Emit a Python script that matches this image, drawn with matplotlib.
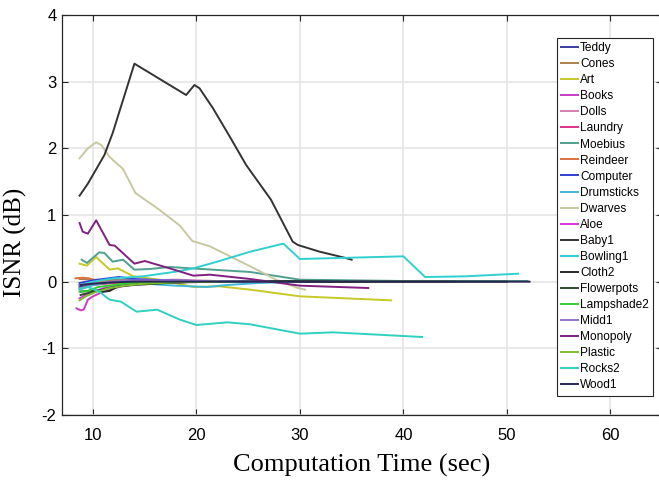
import matplotlib
matplotlib.use("Agg")
import matplotlib.pyplot as plt

plt.rcParams["axes.unicode_minus"] = False

names = ["Teddy", "Cones", "Art", "Books", "Dolls", "Laundry", "Moebius",
         "Reindeer", "Computer", "Drumsticks", "Dwarves", "Aloe", "Baby1",
         "Bowling1", "Cloth2", "Flowerpots", "Lampshade2", "Midd1",
         "Monopoly", "Plastic", "Rocks2", "Wood1"]

colors = ["#3c3ca0", "#b0804a", "#c8c828", "#c83cc8", "#d580b0", "#e0308a",
          "#50a090", "#e07040", "#3040d8", "#40b8d8", "#c8c8a0", "#e030e0",
          "#333333", "#30d0d0", "#2a2a2a", "#304830", "#30d030", "#9070d0",
          "#802080", "#80c030", "#30d0c0", "#282850"]

# computation time (sec) / ISNR (dB) for each image
t_teddy = [8.7, 9.5, 10.5, 12, 14, 17, 20, 25, 30]
v_teddy = [-0.08, -0.04, 0.0, 0.02, 0.02, 0.01, 0.01, 0.0, 0.0]
t_cones = [8.7, 10, 12, 15, 20, 30, 44]
v_cones = [0.04, 0.03, 0.02, 0.01, 0.01, 0.0, 0.0]
t_art = [8.7, 9.4, 10.3, 11.6, 12.4, 13.9, 16.4, 19.7, 22.2, 25.2, 30.0, 38.8]
v_art = [0.27, 0.24, 0.37, 0.18, 0.20, 0.08, 0.03, -0.08, -0.07, -0.12, -0.22, -0.28]
t_books = [8.4, 8.8, 9.1, 9.5, 10, 11, 12.5, 14, 16, 19, 22]
v_books = [-0.40, -0.43, -0.42, -0.27, -0.22, -0.15, -0.08, -0.04, -0.02, -0.01, 0.0]
t_dolls = [8.7, 10, 12, 15, 18, 22, 25]
v_dolls = [-0.05, -0.02, 0.0, 0.02, 0.03, 0.01, 0.0]
t_laundry = [8.7, 10, 12, 15, 18, 22, 28]
v_laundry = [-0.1, -0.05, -0.02, 0.0, 0.01, 0.0, 0.0]
t_moebius = [8.9, 9.4, 10.6, 11.1, 11.9, 12.9, 14.0, 15.5, 17.4, 25.2, 30, 35, 40, 45, 52]
v_moebius = [0.33, 0.28, 0.44, 0.43, 0.30, 0.33, 0.18, 0.19, 0.22, 0.145, 0.03, 0.02, 0.01, 0.01, 0.01]
t_reindeer = [8.3, 9.0, 9.6, 10.5, 12, 15, 20]
v_reindeer = [0.05, 0.06, 0.05, 0.0, -0.01, 0.0, 0.0]
t_computer = [8.7, 10, 11.5, 12.5, 14, 17, 20, 25, 33]
v_computer = [-0.02, 0.02, 0.05, 0.07, 0.04, 0.02, 0.01, 0.0, 0.0]
t_drumsticks = [8.7, 10, 12, 15, 18, 21, 23, 26, 30, 35]
v_drumsticks = [-0.12, -0.05, 0.0, -0.03, -0.06, -0.08, -0.05, -0.02, 0.0, 0.0]
t_dwarves = [8.7, 9.5, 10.3, 10.8, 11.6, 12.9, 14.1, 16.4, 18.4, 19.6, 21.3, 25.2, 27.7, 29.7, 30.5]
v_dwarves = [1.85, 2.0, 2.09, 2.05, 1.87, 1.69, 1.33, 1.08, 0.84, 0.61, 0.53, 0.23, 0.03, -0.09, -0.12]
t_aloe = [8.7, 9.3, 10, 11, 12.5, 14, 16, 18]
v_aloe = [-0.25, -0.2, -0.15, -0.1, -0.05, -0.03, -0.01, 0.0]
t_baby1 = [8.7, 9.5, 11.1, 11.9, 14.0, 19.0, 19.8, 20.3, 21.6, 23.2, 24.8, 27.2, 29.3, 29.8, 31.9, 34.3, 35.0]
v_baby1 = [1.29, 1.47, 1.90, 2.23, 3.27, 2.80, 2.95, 2.90, 2.60, 2.18, 1.75, 1.23, 0.60, 0.55, 0.45, 0.36, 0.33]
t_bowling1 = [8.7, 10, 12, 14.8, 18, 19.7, 22, 25.2, 28.4, 30.0, 35, 40, 42.1, 46, 51.1]
v_bowling1 = [-0.05, 0.0, 0.05, 0.08, 0.15, 0.2, 0.3, 0.45, 0.57, 0.34, 0.36, 0.38, 0.07, 0.08, 0.12]
t_cloth2 = [8.8, 10, 11, 11.6, 12.4, 14, 15, 17, 20, 25, 30, 40, 50]
v_cloth2 = [-0.15, -0.13, -0.15, -0.14, -0.07, -0.05, -0.04, -0.02, 0.0, 0.01, 0.0, 0.0, 0.0]
t_flowerpots = [8.8, 10, 12, 14, 17, 20, 25, 30, 35, 45]
v_flowerpots = [-0.2, -0.15, -0.08, -0.04, -0.02, 0.0, 0.01, 0.01, 0.0, 0.0]
t_lampshade2 = [8.7, 9.5, 10.5, 12, 13.5, 15, 18, 21, 24]
v_lampshade2 = [-0.15, -0.14, -0.08, -0.05, -0.02, -0.01, 0.0, 0.0, 0.0]
t_midd1 = [8.7, 10, 12, 14, 17, 20, 27]
v_midd1 = [-0.05, -0.03, 0.0, 0.02, 0.02, 0.01, 0.0]
t_monopoly = [8.7, 9.0, 9.5, 10.3, 11.6, 12.1, 14.0, 15.0, 17.4, 19.7, 21.3, 25.2, 30.0, 36.6]
v_monopoly = [0.88, 0.75, 0.72, 0.92, 0.55, 0.54, 0.27, 0.31, 0.20, 0.09, 0.105, 0.04, -0.06, -0.095]
t_plastic = [8.7, 9.3, 10.2, 11.5, 13, 15, 18, 22]
v_plastic = [-0.28, -0.22, -0.16, -0.1, -0.06, -0.03, -0.01, 0.0]
t_rocks2 = [8.7, 9.5, 10.6, 11.6, 12.7, 14.2, 16.2, 18.4, 20, 23, 25.2, 30, 33.2, 41.8]
v_rocks2 = [-0.1, -0.08, -0.15, -0.27, -0.30, -0.45, -0.42, -0.57, -0.65, -0.61, -0.64, -0.78, -0.76, -0.83]
t_wood1 = [8.8, 10, 12, 14, 17, 20, 25, 30, 35, 40, 45, 52.2]
v_wood1 = [-0.05, -0.03, -0.01, 0.0, 0.0, 0.0, 0.0, 0.0, 0.0, 0.0, 0.0, 0.0]

times = [t_teddy, t_cones, t_art, t_books, t_dolls, t_laundry, t_moebius,
         t_reindeer, t_computer, t_drumsticks, t_dwarves, t_aloe, t_baby1,
         t_bowling1, t_cloth2, t_flowerpots, t_lampshade2, t_midd1,
         t_monopoly, t_plastic, t_rocks2, t_wood1]
isnrs = [v_teddy, v_cones, v_art, v_books, v_dolls, v_laundry, v_moebius,
         v_reindeer, v_computer, v_drumsticks, v_dwarves, v_aloe, v_baby1,
         v_bowling1, v_cloth2, v_flowerpots, v_lampshade2, v_midd1,
         v_monopoly, v_plastic, v_rocks2, v_wood1]

fig = plt.figure(figsize=(6.59, 4.82), dpi=100)
ax = fig.add_axes([62 / 659, 67 / 482, 600 / 659, 400 / 482])

for t, v, name, c in zip(times, isnrs, names, colors):
    ax.plot(t, v, color=c, lw=1.4, label=name)

ax.set_xlim(7, 65)
ax.set_ylim(-2, 4)
ax.set_xticks([10, 20, 30, 40, 50, 60])
ax.set_yticks([-2, -1, 0, 1, 2, 3, 4])
ax.grid(True, color="#e3e3e3", lw=1.1)
ax.set_axisbelow(True)

for side in ["left", "bottom", "top", "right"]:
    ax.spines[side].set_color("#262626")
    ax.spines[side].set_linewidth(0.9)
ax.tick_params(direction="in", length=4, width=0.8, top=True, right=True,
               color="#262626", labelsize=12)
ax.tick_params(axis="x", pad=9)
ax.tick_params(axis="y", pad=4)
for lab in ax.get_xticklabels() + ax.get_yticklabels():
    lab.set_family("Liberation Sans")

ax.set_xlabel("Computation Time (sec)", family="Liberation Serif", fontsize=19, labelpad=8)
ax.set_ylabel("ISNR (dB)", family="Liberation Serif", fontsize=18)
ax.yaxis.set_label_coords(-0.058, 0.4325)

leg = ax.legend(loc="upper right", bbox_to_anchor=(0.985, 0.9425), borderaxespad=0,
                fancybox=False, framealpha=1, edgecolor="#262626",
                prop={"family": "Liberation Sans", "size": 8.6},
                labelspacing=0.34, handlelength=1.45, handletextpad=0.15,
                borderpad=0.35)
leg.get_frame().set_linewidth(0.8)

fig.savefig("out.png", dpi=100)
